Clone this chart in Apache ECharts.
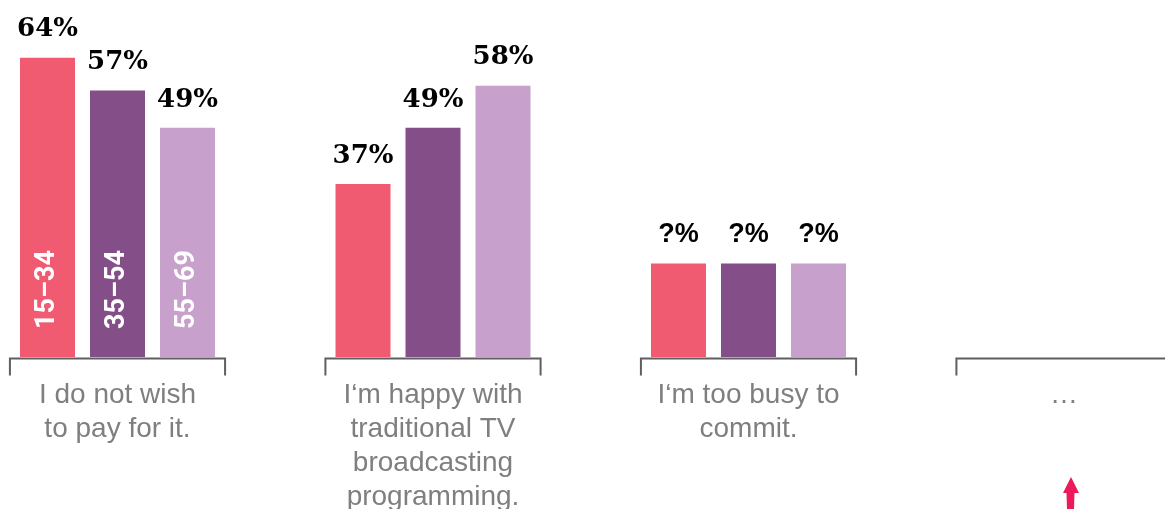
<!DOCTYPE html>
<html>
<head>
<meta charset="utf-8">
<script src="https://cdn.jsdelivr.net/npm/echarts@6/dist/echarts.min.js"></script>
<style>
  html, body { margin: 0; padding: 0; background: #ffffff; }
  #chart { width: 1165px; height: 509px; }
</style>
</head>
<body>
<div id="chart"></div>
<script>
// Reasons for not subscribing, share of respondents by age group
const categories = [
  'I do not wish\nto pay for it.',
  'I\u2018m happy with\ntraditional TV\nbroadcasting\nprogramming.',
  'I\u2018m too busy to\ncommit.',
  '\u2026'
];
const ageGroups = ['15\u201334', '35\u201354', '55\u201369'];
const age15to34 = [64, 37, 20, '-'];
const age35to54 = [57, 49, 20, '-'];
const age55to69 = [49, 58, 20, '-'];
// Groups whose figures are not yet known are labelled "?%"
const unknownGroups = [2];
const colors = ['#f05b72', '#844e89', '#c7a0cc'];

const seriesValues = [age15to34, age35to54, age55to69];
const BAR_W = 55;
const BAR_GAP = '27.27%';

const chart = echarts.init(document.getElementById('chart'));

// Visible bars with value labels on top
const valueSeries = seriesValues.map((vals, s) => ({
  type: 'bar',
  name: ageGroups[s],
  xAxisIndex: 0,
  barWidth: BAR_W,
  barGap: BAR_GAP,
  data: vals,
  itemStyle: { color: colors[s] },
  label: {
    show: true,
    position: 'top',
    distance: 15,
    formatter: p => unknownGroups.includes(p.dataIndex) ? '{q|?%}' : '{n|' + p.value + '%}',
    rich: {
      n: { fontFamily: 'DejaVu Serif', fontWeight: 'bold', fontSize: 26, color: '#000' },
      q: { fontFamily: 'Liberation Sans', fontWeight: 'bold', fontSize: 27, color: '#000' }
    }
  },
  silent: true
}));

// Transparent twins of the first group carrying the rotated age-group names
const nameSeries = seriesValues.map((vals, s) => ({
  type: 'bar',
  name: ageGroups[s] + ' name',
  xAxisIndex: 1,
  barWidth: BAR_W,
  barGap: BAR_GAP,
  data: vals.map((v, i) => (i === 0 ? v : '-')),
  itemStyle: { color: 'rgba(0,0,0,0)' },
  label: {
    show: true,
    position: 'insideBottom',
    rotate: 90,
    align: 'left',
    verticalAlign: 'middle',
    distance: 28,
    formatter: ageGroups[s],
    fontFamily: 'Roboto',
    fontWeight: 'bold',
    fontSize: 27,
    color: '#ffffff'
  },
  silent: true
}));

// Bracket under each category group
const bracketSeries = {
  type: 'custom',
  xAxisIndex: 0,
  silent: true,
  clip: false,
  data: categories.map((c, i) => [i, 0]),
  renderItem: (params, api) => {
    const base = api.coord([api.value(0), 0]);
    const band = api.size([1, 0])[0];
    const half = band * 0.341;
    const y = base[1] + 1.5;
    const drop = 17;
    return {
      type: 'polyline',
      shape: {
        points: [
          [base[0] - half, y + drop],
          [base[0] - half, y],
          [base[0] + half, y],
          [base[0] + half, y + drop]
        ]
      },
      style: { stroke: '#5f5f5f', lineWidth: 2, fill: null }
    };
  }
};

// Category positions sit on the axis ticks, spanning from the first to the last group
const xAxisBase = {
  type: 'category',
  data: categories,
  boundaryGap: false
};

chart.setOption({
  animation: false,
  grid: {
    left: 117.5, right: 101, top: 29.6, bottom: 152,
    containLabel: false,
    outerBoundsMode: 'none'
  },
  xAxis: [
    Object.assign({}, xAxisBase, {
      axisLine: { show: false },
      axisTick: { show: false },
      splitLine: { show: false },
      axisLabel: {
        interval: 0,
        margin: 21,
        color: '#7f7f7f',
        fontFamily: 'Liberation Sans',
        fontSize: 28,
        lineHeight: 34
      }
    }),
    Object.assign({}, xAxisBase, { show: false })
  ],
  yAxis: { type: 'value', min: 0, max: 70, show: false },
  series: [...valueSeries, ...nameSeries, bracketSeries],
  graphic: [
    {
      // pointer arrow under the open category
      type: 'polygon',
      shape: {
        points: [
          [1071, 477], [1079, 493], [1074.5, 493], [1074, 509],
          [1067, 509], [1066.5, 493], [1063, 493]
        ]
      },
      style: { fill: '#ec1a5b' }
    }
  ]
});
</script>
</body>
</html>
